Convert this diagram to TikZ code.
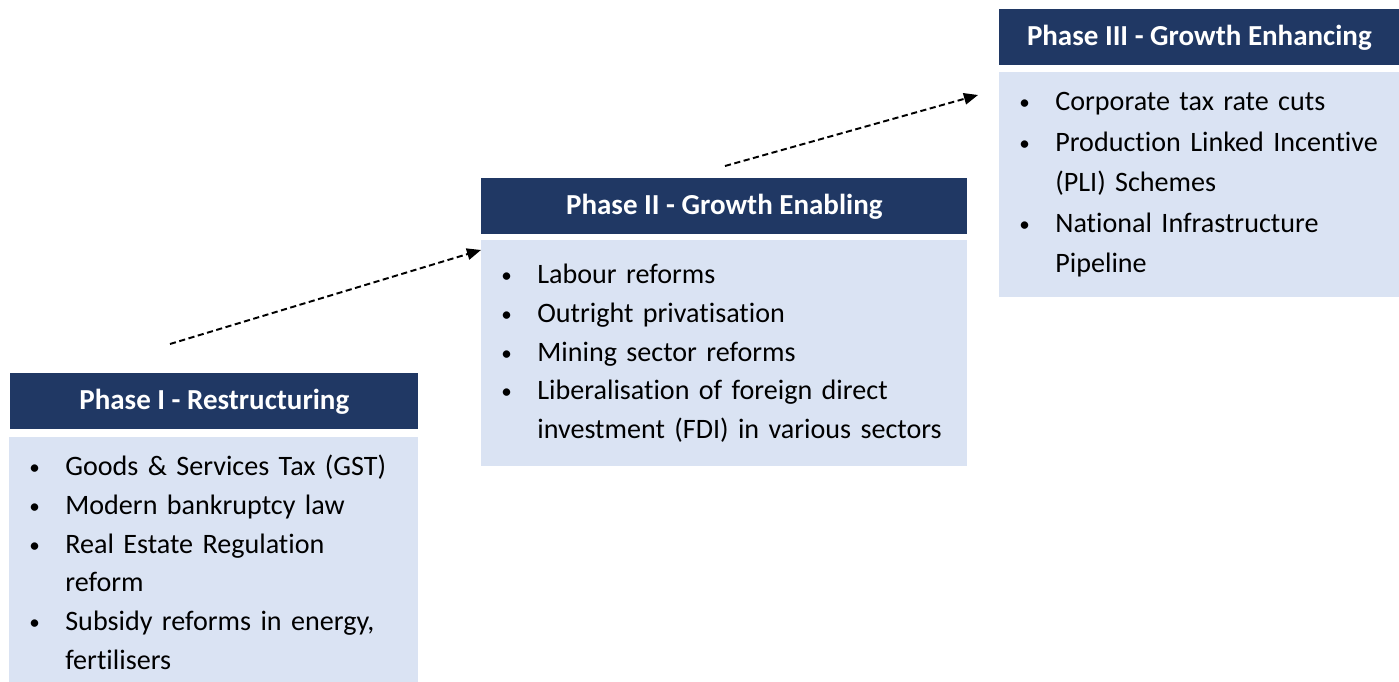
\documentclass[tikz,border=0pt]{standalone}
\usepackage{fontspec}
\setmainfont[Ligatures=NoCommon]{Carlito}
\usetikzlibrary{arrows.meta}
\definecolor{phasenavy}{HTML}{203864}
\definecolor{phasebody}{HTML}{DAE3F3}
\newcommand{\bitem}[1]{\makebox[0.72cm][l]{\raisebox{0.5pt}{\fontsize{12}{12}\selectfont\textbullet}}\mbox{#1}}
\newcommand{\bcont}[1]{\hspace*{0.72cm}\mbox{#1}}

\begin{document}
\begin{tikzpicture}[x=0.02cm,y=-0.02cm,>={Triangle[length=8pt,width=6.5pt]}]
  \tikzstyle{header}=[fill=phasenavy, text=white, anchor=north west, inner sep=0pt,
    minimum height=1.12cm, font=\fontsize{16.5}{20}\selectfont\bfseries]
  \tikzstyle{body}=[fill=phasebody, anchor=north west, inner xsep=0.4cm, inner ysep=0pt,
    align=left, font=\fontsize{16}{22}\selectfont]
  \tikzstyle{link}=[->, dash pattern=on 3.5pt off 2pt, line width=1.1pt]

  \useasboundingbox (0,0) rectangle (1399,682);

  \node[header, minimum width=8.16cm] (p1head) at (10,373) {Phase I - Restructuring};
  \node[body, minimum width=8.18cm, minimum height=5.0cm, text width=7.38cm] (p1body) at (9,437)
    {\bitem{Goods \& Services Tax (GST)}\\ \bitem{Modern bankruptcy law}\\
     \bitem{Real Estate Regulation}\\ \bcont{reform}\\
     \bitem{Subsidy reforms in energy,}\\ \bcont{fertilisers}};

  \node[header, minimum width=9.72cm] (p2head) at (481,178) {Phase II - Growth Enabling};
  \node[body, minimum width=9.72cm, minimum height=4.52cm, text width=8.92cm] (p2body) at (481,240)
    {\bitem{Labour reforms}\\ \bitem{Outright privatisation}\\ \bitem{Mining sector reforms}\\
     \bitem{Liberalisation of foreign direct}\\ \bcont{investment (FDI) in various sectors}};

  \node[header, minimum width=8.0cm] (p3head) at (999,9) {Phase III - Growth Enhancing};
  \node[body, minimum width=8.0cm, minimum height=4.5cm, text width=7.2cm,
    font=\fontsize{16}{23}\selectfont] (p3body) at (999,72)
    {\bitem{Corporate tax rate cuts}\\ \bitem{Production Linked Incentive}\\ \bcont{(PLI) Schemes}\\
     \bitem{National Infrastructure}\\ \bcont{Pipeline}};

  \coordinate (a1s) at (170,344);
  \coordinate (a1e) at (481,250);
  \coordinate (a2s) at (725,166);
  \coordinate (a2e) at (978,95);
  \draw[link] (a1s) -- (a1e);
  \draw[link] (a2s) -- (a2e);
\end{tikzpicture}
\end{document}
